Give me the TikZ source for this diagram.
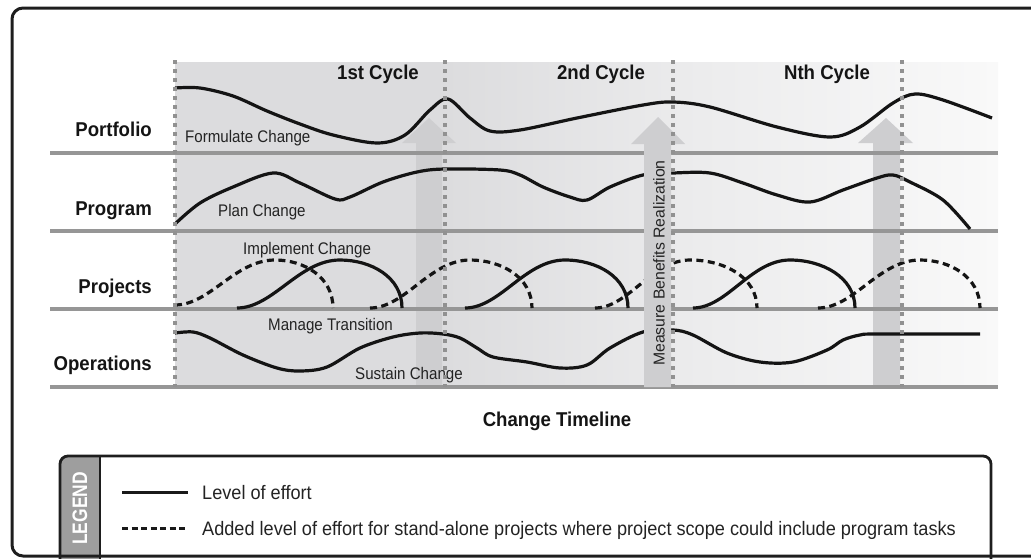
\documentclass[tikz,border=0pt]{standalone}
\usepackage{fontspec}
\setmainfont{Liberation Sans}
\newfontfamily\fsmall[FakeStretch=0.9]{Liberation Sans}
\newfontfamily\flegend[FakeStretch=0.93]{Liberation Sans}
\newfontfamily\ftag[FakeStretch=0.83]{Liberation Sans}
\newfontfamily\ftitle[FakeStretch=0.93]{Liberation Sans}
\definecolor{rulegray}{RGB}{150,150,150}
\definecolor{dotgray}{RGB}{145,145,145}
\definecolor{arrowgray}{RGB}{206,206,208}
\definecolor{bgA}{RGB}{220,220,222}
\definecolor{bgB}{RGB}{236,236,237}
\definecolor{bgC}{RGB}{249,249,249}
\definecolor{labelgray}{RGB}{35,35,35}
\definecolor{framecol}{RGB}{30,30,30}
\definecolor{tabgray}{RGB}{158,158,158}
\pgfdeclarehorizontalshading{bgshade}{100bp}{color(0bp)=(bgA); color(25bp)=(bgA); color(41.4bp)=(bgA); color(56.9bp)=(bgB); color(75bp)=(bgC); color(100bp)=(bgC)}
\begin{document}
\begin{tikzpicture}[x=1pt,y=-1pt,
  rowrule/.style={line width=4.5pt, draw=rulegray},
  cycledot/.style={line width=4.2pt, draw=dotgray, dash pattern=on 4pt off 5pt},
  effort/.style={line width=3.2pt, draw=black!92, line join=round},
  added/.style={line width=3.2pt, draw=black!92, dash pattern=on 7pt off 4.5pt},
  bigarrow/.style={fill=arrowgray, draw=none},
  rowlabel/.style={font=\ftitle\fontsize{20}{20}\selectfont\bfseries, anchor=base east, inner sep=0pt, text=black!92},
  cyclelabel/.style={font=\ftitle\fontsize{20}{20}\selectfont\bfseries, anchor=base, inner sep=0pt, text=black!92},
  phase/.style={font=\fsmall\fontsize{16.8}{16.8}\selectfont, anchor=base west, inner sep=0pt, text=labelgray},
  legtext/.style={font=\flegend\fontsize{19.5}{19.5}\selectfont, anchor=base west, inner sep=0pt, text=labelgray}
]
\useasboundingbox (0,0) rectangle (1031,558);
\clip (0,0) rectangle (1031,558);

% background band
\shade[shading=bgshade] (175,62) rectangle (998,387);

% arrows 1 and 3
\fill[bigarrow] (416,387) -- (416,143) -- (402,143) -- (429,118) -- (456,143) -- (442,143) -- (442,387) -- cycle;
\fill[bigarrow] (873,387) -- (873,143) -- (858,143) -- (886,118) -- (913,143) -- (900,143) -- (900,387) -- cycle;

% row rules
\foreach \yy in {153,231,309,387} \draw[rowrule] (50,\yy) -- (998,\yy);

% Portfolio curve
\draw[effort] plot[smooth, tension=0.55] coordinates {(175,88) (200,88) (233,96) (267,111) (300,124) (333,135) (377,143) (405,135) (430,110) (448,99) (470,118) (490,131) (520,130) (577,118) (643,105) (673,102) (710,107) (777,127) (830,137) (860,127) (893,103) (915,94) (943,100) (992,118)};

% Program curve
\draw[effort] plot[smooth, tension=0.55] coordinates {(175,224) (200,203) (233,187) (273,173) (300,183) (335,199) (350,197) (383,182) (417,172) (445,169) (500,170) (520,175) (543,187) (570,197) (587,200) (610,187) (643,175) (673,173) (710,173) (743,183) (777,195) (810,202) (843,190) (877,178) (893,175) (910,182) (943,200) (970,229)};

% Projects curves
\draw[added] (175,305) .. controls (210,305) and (235,260) .. (275,260) .. controls (304,260) and (333,277) .. (333,308);
\draw[effort] (237,308) .. controls (273,308) and (299,260) .. (340,260) .. controls (371,260) and (402,277) .. (402,308);
\draw[added] (370,308) .. controls (405,308) and (430,260) .. (470,260) .. controls (501,260) and (532,277) .. (532,308);
\draw[effort] (465,308) .. controls (500,308) and (525,260) .. (565,260) .. controls (597,260) and (628,277) .. (628,308);
\draw[added] (595,308) .. controls (628,308) and (652,260) .. (690,260) .. controls (724,260) and (757,277) .. (757,308);
\draw[effort] (693,308) .. controls (727,308) and (751,260) .. (790,260) .. controls (822,260) and (855,277) .. (855,308);
\draw[added] (818,308) .. controls (854,308) and (879,260) .. (920,260) .. controls (950,260) and (980,277) .. (980,308);

% Operations curve
\draw[effort] plot[smooth, tension=0.55] coordinates {(175,333) (193,332) (210,338) (243,355) (277,368) (300,371) (327,367) (360,348) (393,337) (420,333) (443,334) (460,338) (477,348) (493,357) (527,362) (560,368) (587,365) (610,348) (643,332) (673,330) (693,335) (727,353) (760,362) (793,362) (827,350) (843,340) (860,335) (877,334) (980,334)};

% phase labels
\node[phase] (formulate) at (185,142) {Formulate Change};
\node[phase] (plan) at (218,216.5) {Plan Change};
\node[phase] (implement) at (243,254) {Implement Change};
\node[phase] (manage) at (268,330.5) {Manage Transition};
\node[phase] (sustain) at (355,379) {Sustain Change};

% measure arrow (opaque)
\fill[bigarrow] (644,387) -- (644,144) -- (631,144) -- (658,117) -- (685,144) -- (671,144) -- (671,387) -- cycle;
\node[rotate=90, font=\fontsize{15.8}{15.8}\selectfont, text=labelgray, inner sep=0pt] (measure) at (659,263) {Measure Benefits Realization};

% cycle separators
\foreach \xx in {175,445,673,902} \draw[cycledot] (\xx,60) -- (\xx,387);

% row labels and titles
\node[rowlabel] (portfolio) at (152,136.7) {Portfolio};
\node[rowlabel] (program) at (152,215) {Program};
\node[rowlabel] (projects) at (152,293.3) {Projects};
\node[rowlabel] (operations) at (152,370) {Operations};
\node[cyclelabel] (c1) at (378,79) {1st Cycle};
\node[cyclelabel] (c2) at (601,79) {2nd Cycle};
\node[cyclelabel] (cn) at (827,79) {Nth Cycle};
\node[cyclelabel] (timeline) at (557,426.7) {Change Timeline};

% legend
\fill[tabgray, rounded corners=8pt] (60,570) |- (80,456) [sharp corners] -- (100,456) -- (100,570) -- cycle;
\draw[line width=2.8pt, draw=framecol, rounded corners=8pt] (60,570) |- (991,456) -- (991,570);
\draw[line width=2.8pt, draw=framecol] (100,456) -- (100,570);
\node[rotate=90, text=white, inner sep=0pt, font=\ftag\bfseries\fontsize{21}{21}\selectfont] (legendtag) at (80,508.5) {LEGEND};
\draw[line width=3pt, draw=black!90] (122,492) -- (188,492);
\draw[line width=3pt, draw=black!90, dash pattern=on 6pt off 3.5pt] (122,528) -- (188,528);
\node[legtext] (leg1) at (202,499) {Level of effort};
\node[legtext] (leg2) at (202,535.5) {Added level of effort for stand-alone projects where project scope could include program tasks};

% outer frame
\draw[line width=3pt, draw=framecol, rounded corners=11pt] (12,8) rectangle (1060,556);
\end{tikzpicture}
\end{document}
